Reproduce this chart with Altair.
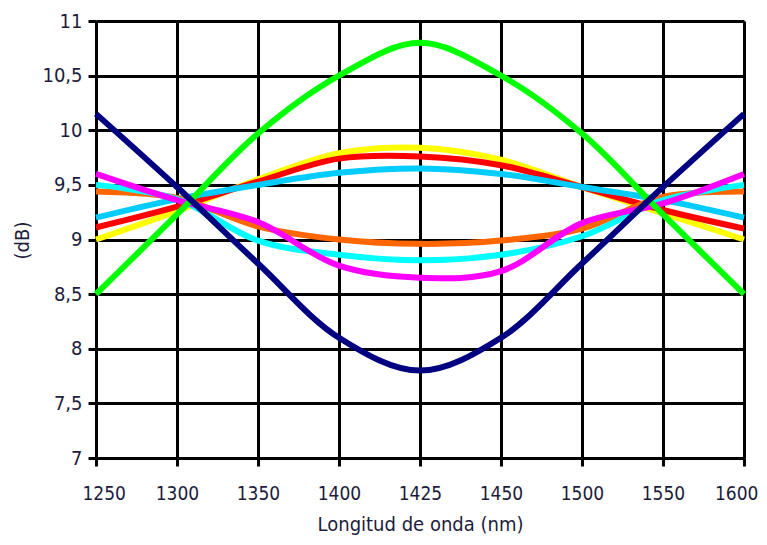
import altair as alt
import pandas as pd

wavelengths = ["1250", "1300", "1350", "1400", "1425", "1450", "1500", "1550", "1600"]

yellow  = [9.00, 9.26, 9.55, 9.79, 9.84, 9.73, 9.48, 9.24, 9.00]
red     = [9.11, 9.30, 9.53, 9.74, 9.76, 9.68, 9.48, 9.27, 9.10]
skyblue = [9.20, 9.37, 9.50, 9.61, 9.65, 9.60, 9.48, 9.36, 9.20]
orange  = [9.44, 9.38, 9.12, 9.00, 8.96, 8.99, 9.10, 9.39, 9.44]
cyan    = [9.50, 9.37, 8.99, 8.86, 8.81, 8.86, 9.03, 9.36, 9.50]
magenta = [9.60, 9.36, 9.16, 8.76, 8.65, 8.71, 9.15, 9.33, 9.60]
green   = [8.50, 9.23, 9.97, 10.50, 10.80, 10.50, 9.97, 9.23, 8.50]
navy    = [10.15, 9.48, 8.78, 8.10, 7.80, 8.10, 8.78, 9.48, 10.15]

series = {
    "yellow": yellow,
    "red": red,
    "skyblue": skyblue,
    "orange": orange,
    "cyan": cyan,
    "magenta": magenta,
    "green": green,
    "navy": navy,
}
colors = {
    "yellow": "#FFFF00",
    "red": "#FF0000",
    "skyblue": "#00CCFF",
    "orange": "#FF6600",
    "cyan": "#00FFFF",
    "magenta": "#FF00FF",
    "green": "#00FF00",
    "navy": "#000080",
}

rows = []
for name, vals in series.items():
    for i, (w, v) in enumerate(zip(wavelengths, vals)):
        rows.append({"serie": name, "wl": w, "db": v, "i": i})
df = pd.DataFrame(rows)

font = "DejaVu Sans Condensed"
txt = "#1c1c3c"

lines = alt.Chart(df).mark_line(strokeWidth=6, interpolate="catmull-rom").encode(
    x=alt.X("wl:O", sort=wavelengths,
            scale=alt.Scale(type="point", padding=0),
            axis=alt.Axis(title="Longitud de onda (nm)", labelAngle=0,
                          grid=True, gridColor="black", gridWidth=3,
                          domainColor="black", domainWidth=3,
                          tickColor="black", tickWidth=3, tickSize=8,
                          labelFlush=True, labelFlushOffset=14,
                          labelPadding=18, labelFontSize=19, labelFont=font,
                          labelColor=txt, titleFont=font, titleFontSize=20,
                          titleFontWeight="normal", titleColor=txt, titlePadding=11)),
    y=alt.Y("db:Q", scale=alt.Scale(domain=[7, 11], nice=False, zero=False),
            axis=alt.Axis(title="(dB)", values=[7, 7.5, 8, 8.5, 9, 9.5, 10, 10.5, 11],
                          labelExpr="replace(toString(datum.value), '.', ',')",
                          grid=True, gridColor="black", gridWidth=3,
                          domainColor="black", domainWidth=3,
                          tickColor="black", tickWidth=3, tickSize=8,
                          labelPadding=6, labelFontSize=20, labelFont=font,
                          labelColor=txt, titleFont=font, titleFontSize=20,
                          titleFontWeight="normal", titleColor=txt,
                          titleX=-74, titleY=219, titleAngle=270,
                          titleAlign="center", titleBaseline="middle")),
    color=alt.Color("serie:N", scale=alt.Scale(domain=list(colors.keys()),
                                                range=list(colors.values())),
                    legend=None),
    order="i:Q",
    detail="serie:N",
)

chart = lines.properties(
    width=648, height=437,
    autosize=alt.AutoSizeParams(type="none"),
    padding={"left": 88, "top": 13, "right": 15, "bottom": 79},
).configure_view(
    fill="#FFFFCC", stroke="#C0C0C0", strokeWidth=3
).configure(background="white")

chart.save("out.html", embed_options={"renderer": "svg", "actions": False})
